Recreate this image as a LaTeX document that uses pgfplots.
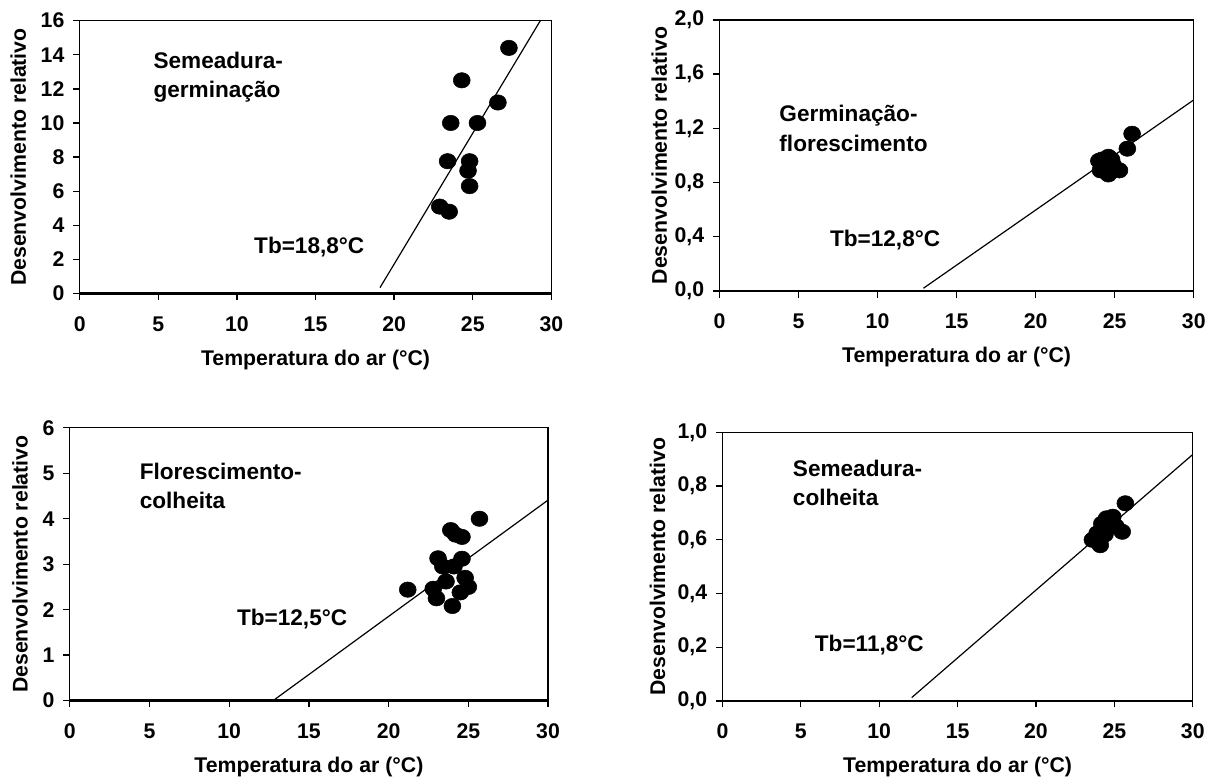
\documentclass[border=0pt]{standalone}
\usepackage{fontspec}
\setmainfont{Liberation Sans}
\usepackage{pgfplots}
\pgfplotsset{compat=1.18}

\pgfplotsset{
  painel/.style={
    scale only axis,
    xmin=0, xmax=30, xtick={0,5,...,30},
    axis line style={line width=1pt},
    tick style={line width=1pt, black},
    tick align=outside, major tick length=5pt,
    xtick pos=bottom, ytick pos=left,
    tick label style={font=\fontsize{16}{18}\selectfont\bfseries},
    /pgf/number format/assume math mode=true,
    xticklabel={\textbf{\pgfmathprintnumber{\tick}}},
    yticklabel={\textbf{\pgfmathprintnumber{\tick}}},
    xticklabel style={anchor=north, text height=12pt, text depth=0pt, yshift=-8pt},
    yticklabel style={xshift=-3pt},
    xlabel={Temperatura do ar (°C)},
    ylabel={Desenvolvimento relativo},
    label style={font=\fontsize{16}{19}\selectfont\bfseries},
    xlabel style={at={(axis description cs:0.5,0)}, anchor=center, yshift=-50pt},
    clip=false,
  },
  decimal/.style={yticklabel={\textbf{\pgfmathprintnumber[fixed,fixed zerofill,precision=1,use comma]{\tick}}}},
  pontos/.style={only marks, mark=*, mark size=5.8pt, black, mark options={xscale=1.1}},
  reta/.style={black, line width=0.9pt, no marks},
}
\tikzset{rotulo/.style={font=\fontsize{17}{22}\selectfont\bfseries, anchor=west, align=left}}

\begin{document}
\begin{tikzpicture}
\path (0,0) rectangle (907.5pt,-585pt);

% Semeadura-germinacao
\begin{axis}[painel, at={(60pt,-15.5pt)}, anchor=north west,
  width=355pt, height=205.5pt,
  ymin=0, ymax=16, ytick={0,2,...,16},
  ylabel style={at={(axis description cs:-0.13,0.5)}, anchor=center}]
\addplot[pontos] coordinates {
  (27.3,14.4) (24.3,12.5) (26.6,11.2) (23.6,10.0) (25.3,10.0)
  (23.4,7.76) (24.8,7.76) (24.7,7.2) (24.8,6.3) (22.9,5.1) (23.5,4.8)
};
\addplot[reta] coordinates {(19.1,0.35) (29.3,16)};
\draw[line width=2pt] (rel axis cs:0,0) -- (rel axis cs:1,0);
\node[rotulo] at (axis cs:4.4,12.7) {Semeadura-\\germinação};
\node[rotulo] at (axis cs:10.8,2.75) {Tb=18,8°C};
\end{axis}

% Germinacao-florescimento
\begin{axis}[painel, decimal, at={(541.5pt,-15pt)}, anchor=north west,
  width=357pt, height=204pt,
  ymin=0, ymax=2, ytick={0,0.4,...,2.01},
  ylabel style={at={(axis description cs:-0.127,0.5)}, anchor=center}]
\addplot[pontos] coordinates {
  (26.1,1.16) (25.8,1.05) (25.3,0.89) (24.0,0.96) (24.2,0.97) (24.6,0.99)
  (24.8,0.97) (24.3,0.91) (24.6,0.86) (24.1,0.89) (24.4,0.93) (24.9,0.93)
};
\addplot[reta] coordinates {(12.9,0.02) (30,1.41)};
\draw[line width=2pt] (rel axis cs:0,0) -- (rel axis cs:1,0);
\node[rotulo] at (axis cs:3.5,1.2) {Germinação-\\florescimento};
\node[rotulo] at (axis cs:6.7,0.375) {Tb=12,8°C};
\end{axis}

% Florescimento-colheita
\begin{axis}[painel, at={(52.5pt,-322pt)}, anchor=north west,
  width=360pt, height=205.3pt,
  ymin=0, ymax=6, ytick={0,1,...,6},
  ylabel style={at={(axis description cs:-0.104,0.5)}, anchor=center}]
\addplot[pontos] coordinates {
  (25.7,4.0) (23.9,3.75) (24.6,3.6) (24.2,3.65) (23.1,3.13) (24.6,3.12)
  (23.4,2.95) (24.1,2.95) (23.6,2.62) (24.8,2.7) (25.0,2.5) (24.5,2.38)
  (21.2,2.44) (22.8,2.46) (23.0,2.25) (24.0,2.08)
};
\addplot[reta] coordinates {(12.76,0) (30,4.41)};
\draw[line width=2pt] (rel axis cs:0,0) -- (rel axis cs:1,0);
\node[rotulo] at (axis cs:4.1,4.72) {Florescimento-\\colheita};
\node[rotulo] at (axis cs:10.2,1.79) {Tb=12,5°C};
\end{axis}

% Semeadura-colheita
\begin{axis}[painel, decimal, at={(543.75pt,-325.5pt)}, anchor=north west,
  width=354pt, height=202pt,
  ymin=0, ymax=1, ytick={0,0.2,...,1.01},
  ylabel style={at={(axis description cs:-0.138,0.5)}, anchor=center}]
\addplot[pontos] coordinates {
  (25.7,0.736) (24.2,0.66) (23.6,0.60) (24.1,0.58) (24.9,0.686) (24.7,0.66)
  (25.5,0.63) (24.4,0.62) (23.9,0.624) (24.5,0.68) (24.2,0.64) (25.1,0.65)
};
\addplot[reta] coordinates {(12.07,0.012) (30,0.918)};
\draw[line width=2pt] (rel axis cs:0,0) -- (rel axis cs:1,0);
\node[rotulo] at (axis cs:4.2,0.813) {Semeadura-\\colheita};
\node[rotulo] at (axis cs:5.6,0.208) {Tb=11,8°C};
\end{axis}
\end{tikzpicture}
\end{document}
